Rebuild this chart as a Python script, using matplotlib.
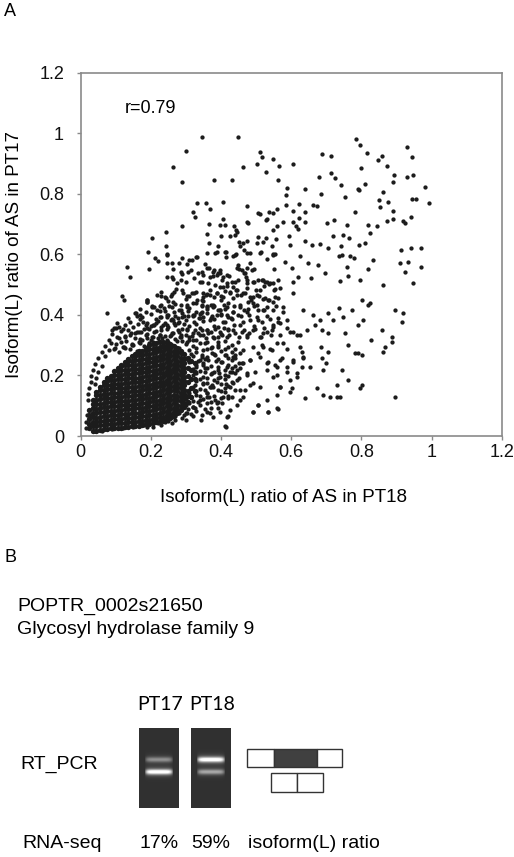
import numpy as np
import matplotlib
matplotlib.use("Agg")
import matplotlib.pyplot as plt
from matplotlib.patches import Rectangle

plt.rcParams['font.family'] = ['Liberation Sans', 'DejaVu Sans']

# ---------------- panel A : points ----------------
# sparse upper part (y > 0.65)
top_pts = [
    (0.345, 0.989), (0.449, 0.989), (0.785, 0.980), (0.796, 0.961), (0.300, 0.943), (0.511, 0.939),
    (0.929, 0.954), (0.687, 0.931), (0.713, 0.926), (0.516, 0.923), (0.547, 0.915), (0.815, 0.936),
    (0.858, 0.926), (0.945, 0.921), (0.846, 0.912), (0.502, 0.899), (0.606, 0.899), (0.264, 0.887),
    (0.462, 0.890), (0.564, 0.893), (0.798, 0.884), (0.874, 0.893), (0.528, 0.871), (0.714, 0.868),
    (0.946, 0.862), (0.894, 0.862), (0.929, 0.855), (0.289, 0.840), (0.381, 0.846), (0.430, 0.845),
    (0.561, 0.846), (0.680, 0.855), (0.725, 0.851), (0.741, 0.829), (0.811, 0.831), (0.891, 0.840),
    (0.587, 0.818), (0.640, 0.816), (0.789, 0.816), (0.794, 0.811), (0.753, 0.789), (0.685, 0.798),
    (0.585, 0.796), (0.849, 0.780), (0.861, 0.805), (0.945, 0.782), (0.956, 0.782), (0.993, 0.769),
    (0.981, 0.824), (0.331, 0.769), (0.356, 0.769), (0.369, 0.750), (0.407, 0.772), (0.319, 0.741),
    (0.325, 0.725), (0.475, 0.761), (0.506, 0.735), (0.536, 0.741), (0.559, 0.750), (0.585, 0.763),
    (0.606, 0.744), (0.622, 0.766), (0.638, 0.741), (0.661, 0.763), (0.673, 0.761), (0.853, 0.758),
    (0.877, 0.774), (0.783, 0.741), (0.889, 0.744), (0.889, 0.717), (0.872, 0.711), (0.942, 0.722),
    (0.918, 0.711), (0.924, 0.705), (0.288, 0.695), (0.367, 0.700), (0.397, 0.697), (0.405, 0.717),
    (0.438, 0.694), (0.443, 0.681), (0.475, 0.706), (0.527, 0.714), (0.549, 0.681), (0.559, 0.692),
    (0.578, 0.706), (0.604, 0.708), (0.614, 0.692), (0.622, 0.719), (0.640, 0.708), (0.619, 0.683),
    (0.701, 0.703), (0.723, 0.714), (0.758, 0.697), (0.820, 0.696), (0.844, 0.692), (0.825, 0.670),
    (0.411, 0.697), (0.445, 0.675), (0.477, 0.705), (0.511, 0.734), (0.532, 0.716), (0.547, 0.736),
]

# band 0.5 - 0.7
upper_pts = [
    (0.242, 0.675), (0.204, 0.655), (0.242, 0.626), (0.359, 0.667), (0.426, 0.659), (0.440, 0.664),
    (0.390, 0.629), (0.454, 0.629), (0.475, 0.645), (0.506, 0.656), (0.521, 0.642), (0.544, 0.626),
    (0.557, 0.650), (0.595, 0.661), (0.597, 0.631), (0.640, 0.645), (0.659, 0.631), (0.682, 0.634),
    (0.705, 0.620), (0.720, 0.659), (0.749, 0.664), (0.766, 0.653), (0.741, 0.626), (0.793, 0.631),
    (0.811, 0.639), (0.746, 0.598), (0.735, 0.593), (0.769, 0.593), (0.779, 0.587), (0.914, 0.615),
    (0.942, 0.620), (0.970, 0.620), (0.910, 0.570), (0.933, 0.576), (0.970, 0.559), (0.923, 0.542),
    (0.948, 0.507), (0.131, 0.559), (0.140, 0.526), (0.193, 0.609), (0.212, 0.587), (0.221, 0.578),
    (0.245, 0.598), (0.288, 0.587), (0.303, 0.567), (0.316, 0.581), (0.331, 0.592), (0.307, 0.543),
    (0.288, 0.535), (0.353, 0.567), (0.367, 0.554), (0.388, 0.607), (0.413, 0.607), (0.435, 0.593),
    (0.475, 0.604), (0.483, 0.570), (0.495, 0.551), (0.530, 0.584), (0.549, 0.598), (0.551, 0.551),
    (0.582, 0.576), (0.601, 0.554), (0.625, 0.593), (0.649, 0.570), (0.677, 0.565), (0.696, 0.537),
    (0.656, 0.523), (0.620, 0.526), (0.604, 0.510), (0.758, 0.557), (0.763, 0.529), (0.739, 0.513),
    (0.796, 0.515), (0.820, 0.551), (0.834, 0.581), (0.863, 0.499), (0.369, 0.526), (0.397, 0.537),
    (0.416, 0.532), (0.440, 0.510), (0.471, 0.526), (0.521, 0.515), (0.538, 0.501), (0.568, 0.488),
    (0.264, 0.518), (0.274, 0.504), (0.245, 0.526), (0.340, 0.510),
    (0.365, 0.637), (0.399, 0.661), (0.464, 0.639), (0.452, 0.642), (0.502, 0.639), (0.528, 0.653),
    (0.245, 0.602), (0.245, 0.573), (0.195, 0.551), (0.261, 0.573), (0.280, 0.571), (0.309, 0.582),
    (0.328, 0.591), (0.361, 0.606), (0.442, 0.602), (0.466, 0.615), (0.513, 0.609), (0.553, 0.602),
    (0.413, 0.590), (0.447, 0.565), (0.475, 0.554), (0.466, 0.540), (0.450, 0.551), (0.264, 0.551),
    (0.285, 0.543), (0.314, 0.549), (0.333, 0.538), (0.347, 0.543), (0.380, 0.549), (0.390, 0.540),
    (0.378, 0.527), (0.404, 0.516), (0.259, 0.524), (0.285, 0.516), (0.299, 0.510), (0.323, 0.521),
]

# band 0.3 - 0.5
mid_pts = [
    (0.076, 0.405), (0.119, 0.462), (0.155, 0.405), (0.188, 0.449), (0.217, 0.466), (0.240, 0.460),
    (0.264, 0.444), (0.293, 0.471), (0.316, 0.471), (0.303, 0.427), (0.331, 0.449), (0.350, 0.460),
    (0.369, 0.482), (0.388, 0.471), (0.407, 0.493), (0.426, 0.471), (0.445, 0.482), (0.468, 0.471),
    (0.492, 0.460), (0.511, 0.482), (0.525, 0.455), (0.478, 0.444), (0.502, 0.433), (0.521, 0.416),
    (0.473, 0.411), (0.454, 0.427), (0.435, 0.411), (0.416, 0.400), (0.397, 0.416), (0.378, 0.427),
    (0.359, 0.405), (0.340, 0.389), (0.321, 0.400), (0.288, 0.394), (0.264, 0.383), (0.245, 0.367),
    (0.226, 0.394), (0.207, 0.367), (0.179, 0.378), (0.155, 0.339), (0.126, 0.328), (0.103, 0.372),
    (0.088, 0.350), (0.549, 0.444), (0.578, 0.427), (0.606, 0.471), (0.635, 0.416), (0.663, 0.400),
    (0.682, 0.383), (0.705, 0.405), (0.720, 0.383), (0.735, 0.422), (0.749, 0.394), (0.773, 0.416),
    (0.801, 0.449), (0.818, 0.433), (0.825, 0.438), (0.791, 0.367), (0.806, 0.383), (0.897, 0.416),
    (0.918, 0.407), (0.915, 0.378), (0.858, 0.350), (0.827, 0.317), (0.801, 0.268), (0.782, 0.275),
    (0.789, 0.275), (0.763, 0.301), (0.868, 0.295), (0.887, 0.328), (0.887, 0.312), (0.863, 0.276),
    (0.753, 0.339), (0.705, 0.339), (0.687, 0.350), (0.668, 0.367), (0.644, 0.350), (0.625, 0.334),
    (0.606, 0.345), (0.587, 0.356), (0.568, 0.372), (0.549, 0.361), (0.530, 0.345), (0.511, 0.328),
    (0.492, 0.350), (0.473, 0.334), (0.454, 0.367), (0.435, 0.350), (0.416, 0.328), (0.397, 0.345),
    (0.378, 0.328), (0.359, 0.350), (0.340, 0.334), (0.321, 0.317), (0.303, 0.350), (0.283, 0.328),
    (0.264, 0.339), (0.245, 0.317), (0.226, 0.334), (0.207, 0.312), (0.188, 0.323), (0.169, 0.306),
    (0.145, 0.301), (0.122, 0.295), (0.098, 0.290),
    (0.423, 0.527), (0.447, 0.516), (0.475, 0.516), (0.494, 0.510), (0.518, 0.516), (0.532, 0.510),
    (0.547, 0.505), (0.561, 0.516), (0.418, 0.494), (0.442, 0.483), (0.475, 0.488), (0.499, 0.483),
    (0.523, 0.494), (0.551, 0.483), (0.399, 0.461), (0.433, 0.455), (0.456, 0.466), (0.485, 0.450),
    (0.509, 0.461), (0.537, 0.450), (0.561, 0.455), (0.380, 0.428), (0.409, 0.433), (0.437, 0.428),
    (0.466, 0.417), (0.494, 0.428), (0.523, 0.417), (0.556, 0.428), (0.375, 0.395), (0.399, 0.400),
    (0.428, 0.389), (0.456, 0.395), (0.480, 0.400), (0.504, 0.384), (0.532, 0.395), (0.561, 0.389),
    (0.380, 0.362), (0.409, 0.356), (0.437, 0.367), (0.466, 0.350), (0.494, 0.362), (0.523, 0.356),
    (0.547, 0.367), (0.390, 0.328), (0.423, 0.334), (0.452, 0.328), (0.480, 0.339), (0.513, 0.328),
    (0.542, 0.334), (0.271, 0.485), (0.266, 0.474), (0.257, 0.461), (0.242, 0.455), (0.228, 0.463),
    (0.190, 0.450), (0.157, 0.406), (0.169, 0.400), (0.204, 0.430), (0.217, 0.417), (0.238, 0.422),
    (0.252, 0.428), (0.095, 0.356), (0.109, 0.361), (0.143, 0.339), (0.171, 0.345), (0.190, 0.356),
    (0.209, 0.367), (0.228, 0.361), (0.257, 0.384), (0.276, 0.373), (0.295, 0.395), (0.323, 0.400),
    (0.342, 0.406), (0.176, 0.317), (0.204, 0.328), (0.233, 0.323), (0.257, 0.334), (0.285, 0.328),
    (0.309, 0.317), (0.333, 0.339), (0.356, 0.323), (0.247, 0.400), (0.285, 0.417), (0.304, 0.433),
    (0.328, 0.439), (0.347, 0.450), (0.361, 0.428), (0.356, 0.466), (0.323, 0.472), (0.304, 0.461),
]

# lower right, below 0.3
low_pts = [
    (0.684, 0.295), (0.705, 0.279), (0.687, 0.257), (0.699, 0.240), (0.692, 0.218), (0.744, 0.218),
    (0.763, 0.185), (0.796, 0.157), (0.803, 0.168), (0.730, 0.168), (0.730, 0.130), (0.711, 0.130),
    (0.739, 0.130), (0.690, 0.135), (0.673, 0.157), (0.638, 0.124), (0.897, 0.130), (0.630, 0.279),
    (0.635, 0.257), (0.654, 0.229), (0.630, 0.229), (0.606, 0.246), (0.616, 0.207), (0.587, 0.229),
    (0.597, 0.185), (0.568, 0.163), (0.601, 0.157), (0.559, 0.135), (0.559, 0.091), (0.535, 0.080),
    (0.506, 0.102), (0.492, 0.080), (0.549, 0.196), (0.559, 0.229), (0.530, 0.240), (0.506, 0.273),
    (0.521, 0.295), (0.544, 0.284), (0.568, 0.251), (0.578, 0.306), (0.483, 0.251), (0.473, 0.207),
    (0.492, 0.174), (0.468, 0.152), (0.445, 0.185), (0.430, 0.130), (0.454, 0.119), (0.426, 0.086),
    (0.421, 0.066), (0.414, 0.031), (0.378, 0.064), (0.343, 0.053), (0.388, 0.108), (0.407, 0.130),
    (0.426, 0.163), (0.445, 0.218), (0.464, 0.240), (0.435, 0.262), (0.416, 0.229), (0.397, 0.196),
    (0.378, 0.163), (0.359, 0.141), (0.340, 0.119), (0.321, 0.097), (0.302, 0.075), (0.207, 0.031),
    (0.169, 0.042),
]

# moderately dense zone x 0.34 - 0.64
dense_mid_pts = [
    (0.383, 0.603), (0.411, 0.609), (0.440, 0.598), (0.483, 0.603), (0.511, 0.605), (0.549, 0.601),
    (0.359, 0.554), (0.378, 0.543), (0.397, 0.548), (0.445, 0.554), (0.459, 0.548), (0.468, 0.537),
    (0.487, 0.548), (0.350, 0.532), (0.388, 0.532), (0.407, 0.526),
    (0.345, 0.509), (0.364, 0.504), (0.383, 0.498), (0.397, 0.493), (0.416, 0.504), (0.430, 0.509),
    (0.435, 0.493), (0.473, 0.504), (0.492, 0.509), (0.506, 0.515), (0.525, 0.509), (0.540, 0.504),
    (0.554, 0.487),
    (0.350, 0.471), (0.369, 0.465), (0.388, 0.471), (0.407, 0.460), (0.426, 0.476), (0.445, 0.465),
    (0.464, 0.471), (0.483, 0.460), (0.502, 0.465), (0.521, 0.454), (0.535, 0.449), (0.554, 0.460),
    (0.345, 0.432), (0.359, 0.421), (0.378, 0.432), (0.397, 0.416), (0.416, 0.427), (0.435, 0.410),
    (0.454, 0.432), (0.478, 0.421), (0.492, 0.438), (0.506, 0.416), (0.530, 0.427), (0.549, 0.416),
    (0.578, 0.410),
    (0.350, 0.394), (0.369, 0.383), (0.388, 0.399), (0.407, 0.377), (0.430, 0.388), (0.449, 0.399),
    (0.464, 0.377), (0.483, 0.383), (0.502, 0.394), (0.516, 0.377), (0.540, 0.388), (0.563, 0.377),
    (0.587, 0.383),
    (0.345, 0.350), (0.364, 0.339), (0.383, 0.355), (0.402, 0.333), (0.421, 0.350), (0.440, 0.339),
    (0.459, 0.344), (0.473, 0.328), (0.497, 0.355), (0.521, 0.339), (0.544, 0.350), (0.568, 0.333),
    (0.597, 0.344), (0.616, 0.333),
    (0.354, 0.306), (0.373, 0.295), (0.392, 0.311), (0.411, 0.289), (0.430, 0.300), (0.449, 0.311),
    (0.464, 0.284), (0.492, 0.295), (0.516, 0.300), (0.540, 0.289), (0.559, 0.306), (0.587, 0.289),
    (0.625, 0.295),
    (0.345, 0.262), (0.364, 0.251), (0.383, 0.267), (0.402, 0.245), (0.421, 0.256), (0.440, 0.267),
    (0.459, 0.240), (0.483, 0.251), (0.511, 0.262), (0.535, 0.245), (0.554, 0.234), (0.573, 0.256),
    (0.606, 0.251), (0.635, 0.262),
    (0.354, 0.223), (0.373, 0.207), (0.392, 0.218), (0.411, 0.201), (0.430, 0.212), (0.454, 0.223),
    (0.473, 0.201), (0.497, 0.212), (0.530, 0.218), (0.559, 0.201), (0.587, 0.212), (0.616, 0.196),
    (0.350, 0.174), (0.369, 0.163), (0.388, 0.179), (0.411, 0.157), (0.435, 0.174), (0.454, 0.152),
    (0.483, 0.168), (0.511, 0.163), (0.568, 0.163), (0.597, 0.146),
    (0.359, 0.130), (0.383, 0.119), (0.402, 0.108), (0.421, 0.124), (0.445, 0.102), (0.464, 0.130),
    (0.506, 0.102), (0.530, 0.119),
    (0.369, 0.075), (0.397, 0.080), (0.416, 0.064), (0.492, 0.080), (0.535, 0.080), (0.563, 0.088),
    (0.411, 0.033),
]

# halo around the solid core
shell_pts = [
    (0.23, 0.475), (0.26, 0.468), (0.29, 0.481), (0.31, 0.462), (0.33, 0.477), (0.36, 0.470), (0.38, 0.458), (0.41, 0.479),
    (0.19, 0.442), (0.25, 0.447), (0.27, 0.436), (0.30, 0.451), (0.32, 0.439), (0.35, 0.446), (0.37, 0.433), (0.40, 0.449),
    (0.42, 0.438), (0.17, 0.418), (0.21, 0.425), (0.24, 0.414), (0.26, 0.427), (0.28, 0.416), (0.31, 0.423), (0.33, 0.411),
    (0.36, 0.426), (0.39, 0.415), (0.41, 0.421), (0.16, 0.398), (0.20, 0.404), (0.23, 0.392), (0.25, 0.401), (0.27, 0.395),
    (0.29, 0.407), (0.32, 0.396), (0.34, 0.402), (0.37, 0.391), (0.40, 0.404), (0.42, 0.394), (0.14, 0.378), (0.17, 0.385),
    (0.19, 0.372), (0.22, 0.381), (0.24, 0.374), (0.26, 0.386), (0.28, 0.377), (0.30, 0.383), (0.33, 0.371), (0.35, 0.379),
    (0.38, 0.386), (0.41, 0.375), (0.10, 0.358), (0.12, 0.352), (0.15, 0.361), (0.18, 0.355), (0.20, 0.364), (0.23, 0.351),
    (0.25, 0.359), (0.27, 0.366), (0.29, 0.354), (0.31, 0.362), (0.34, 0.356), (0.36, 0.349), (0.39, 0.361), (0.42, 0.353),
    (0.09, 0.338), (0.14, 0.333), (0.16, 0.342), (0.19, 0.336), (0.21, 0.345), (0.24, 0.331), (0.26, 0.339), (0.28, 0.344),
    (0.30, 0.334), (0.32, 0.341), (0.35, 0.332), (0.37, 0.343), (0.40, 0.336), (0.08, 0.318), (0.11, 0.324), (0.13, 0.313),
    (0.17, 0.322), (0.20, 0.316), (0.22, 0.325), (0.25, 0.312), (0.27, 0.321), (0.29, 0.315), (0.31, 0.326), (0.33, 0.318),
    (0.36, 0.311), (0.38, 0.323), (0.41, 0.314), (0.07, 0.298), (0.10, 0.304), (0.12, 0.293), (0.15, 0.302), (0.18, 0.296),
    (0.21, 0.305), (0.23, 0.294), (0.26, 0.299), (0.28, 0.291), (0.30, 0.303), (0.32, 0.297), (0.34, 0.306), (0.37, 0.292),
    (0.39, 0.301), (0.42, 0.295), (0.06, 0.278), (0.08, 0.284), (0.11, 0.276), (0.14, 0.287), (0.16, 0.281), (0.19, 0.289),
    (0.22, 0.286), (0.24, 0.292), (0.27, 0.279), (0.29, 0.274), (0.31, 0.283), (0.33, 0.277), (0.35, 0.285), (0.38, 0.272),
    (0.40, 0.281), (0.43, 0.276), (0.05, 0.258), (0.07, 0.264), (0.30, 0.256), (0.32, 0.263), (0.34, 0.252), (0.36, 0.261),
    (0.39, 0.255), (0.41, 0.266), (0.44, 0.258), (0.04, 0.238), (0.06, 0.232), (0.31, 0.243), (0.33, 0.235), (0.35, 0.241),
    (0.37, 0.232), (0.40, 0.245), (0.42, 0.236), (0.45, 0.242), (0.035, 0.218), (0.05, 0.212), (0.32, 0.222), (0.34, 0.214),
    (0.36, 0.225), (0.38, 0.211), (0.41, 0.219), (0.43, 0.226), (0.03, 0.198), (0.045, 0.192), (0.32, 0.203), (0.35, 0.195),
    (0.37, 0.206), (0.39, 0.191), (0.42, 0.199), (0.44, 0.207), (0.03, 0.178), (0.04, 0.172), (0.33, 0.182), (0.36, 0.174),
    (0.38, 0.186), (0.40, 0.171), (0.43, 0.179), (0.025, 0.158), (0.32, 0.163), (0.34, 0.155), (0.37, 0.161), (0.39, 0.152),
    (0.42, 0.166), (0.02, 0.138), (0.31, 0.143), (0.33, 0.135), (0.36, 0.141), (0.38, 0.132), (0.41, 0.145), (0.02, 0.118),
    (0.30, 0.122), (0.32, 0.114), (0.35, 0.121), (0.37, 0.112), (0.40, 0.125), (0.30, 0.102), (0.32, 0.095), (0.34, 0.104),
    (0.37, 0.092), (0.28, 0.082), (0.30, 0.075), (0.33, 0.084), (0.36, 0.078), (0.26, 0.062), (0.29, 0.058), (0.32, 0.065),
    (0.22, 0.042), (0.25, 0.048), (0.04, 0.015), (0.06, 0.018), (0.09, 0.022), (0.12, 0.026), (0.15, 0.030), (0.18, 0.036),
    (0.21, 0.045), (0.122, 0.449), (0.190, 0.444), (0.228, 0.433), (0.204, 0.427),
    (0.095, 0.286), (0.125, 0.291), (0.086, 0.307), (0.114, 0.311), (0.146, 0.305), (0.166, 0.312), (0.196, 0.306),
    (0.224, 0.313), (0.246, 0.308), (0.274, 0.314), (0.304, 0.309), (0.104, 0.327), (0.126, 0.331), (0.154, 0.325),
    (0.186, 0.332), (0.206, 0.327), (0.226, 0.334), (0.254, 0.329), (0.286, 0.335), (0.316, 0.330), (0.114, 0.347),
    (0.136, 0.351), (0.166, 0.345), (0.194, 0.352), (0.214, 0.347), (0.246, 0.354), (0.276, 0.349), (0.304, 0.355),
    (0.326, 0.350), (0.126, 0.367), (0.164, 0.371), (0.186, 0.366), (0.216, 0.373), (0.236, 0.368), (0.266, 0.374),
    (0.294, 0.369), (0.324, 0.375), (0.136, 0.389), (0.176, 0.393), (0.214, 0.388), (0.246, 0.394), (0.276, 0.389),
    (0.306, 0.395), (0.336, 0.391), (0.186, 0.409), (0.226, 0.413), (0.266, 0.408), (0.306, 0.414), (0.346, 0.409),
    (0.226, 0.431), (0.286, 0.434), (0.346, 0.428),
    (0.33, 0.291), (0.36, 0.287), (0.39, 0.293), (0.44, 0.289), (0.315, 0.271), (0.345, 0.268), (0.375, 0.274),
    (0.415, 0.269), (0.455, 0.273), (0.305, 0.251), (0.335, 0.248), (0.355, 0.253), (0.385, 0.247), (0.43, 0.252),
    (0.33, 0.228), (0.35, 0.233), (0.39, 0.229), (0.44, 0.232), (0.33, 0.208), (0.355, 0.213), (0.395, 0.209),
    (0.425, 0.212), (0.34, 0.188), (0.36, 0.193), (0.41, 0.189), (0.45, 0.192), (0.325, 0.168), (0.35, 0.173),
    (0.375, 0.169), (0.415, 0.172), (0.33, 0.148), (0.355, 0.153), (0.40, 0.149), (0.44, 0.152), (0.315, 0.128),
    (0.34, 0.133), (0.365, 0.129), (0.42, 0.132), (0.31, 0.108), (0.335, 0.113), (0.36, 0.109), (0.39, 0.112),
    (0.28, 0.075), (0.305, 0.088), (0.325, 0.093), (0.355, 0.089), (0.39, 0.092), (0.27, 0.066), (0.295, 0.068),
    (0.315, 0.073), (0.345, 0.069), (0.24, 0.046), (0.27, 0.052), (0.30, 0.053), (0.19, 0.030), (0.23, 0.036),
    (0.26, 0.044), (0.015, 0.045), (0.017, 0.070), (0.014, 0.028),
]

# solid core: columns of x with the y values stacked in each
core_x = [0.025, 0.035, 0.045, 0.055, 0.065, 0.075, 0.085, 0.095, 0.105, 0.115, 0.125, 0.135, 0.145, 0.155,
          0.165, 0.175, 0.185, 0.195, 0.205, 0.215, 0.225, 0.235, 0.245, 0.255, 0.265, 0.275, 0.285, 0.295,
          0.305, 0.315, 0.325]
core_y = [
    [.026, .041, .056, .071, .086],
    [.018, .033, .047, .062, .076, .091, .105, .118],
    [.018, .032, .047, .061, .076, .090, .105, .119, .134, .146],
    [.020, .035, .049, .064, .078, .093, .107, .122, .136, .151, .163],
    [.022, .037, .051, .066, .080, .095, .109, .124, .138, .153, .167, .178],
    [.024, .038, .053, .067, .082, .096, .111, .125, .140, .154, .169, .183, .190],
    [.025, .040, .054, .069, .083, .098, .112, .127, .141, .156, .170, .185, .199],
    [.026, .041, .055, .070, .084, .099, .113, .128, .142, .157, .171, .186, .200, .214],
    [.027, .042, .056, .071, .085, .100, .114, .129, .143, .158, .172, .187, .201, .216, .225],
    [.028, .043, .057, .072, .086, .101, .115, .130, .144, .159, .173, .188, .202, .217, .231, .236],
    [.030, .044, .059, .073, .088, .102, .117, .131, .146, .160, .175, .189, .204, .218, .233, .245],
    [.030, .045, .059, .074, .088, .103, .117, .132, .146, .161, .175, .190, .204, .219, .233, .248, .255],
    [.032, .046, .061, .075, .090, .104, .119, .133, .148, .162, .177, .191, .206, .220, .235, .249, .264],
    [.033, .047, .062, .076, .091, .105, .120, .134, .149, .163, .178, .192, .207, .221, .236, .250, .265, .270],
    [.034, .048, .063, .077, .092, .106, .121, .135, .150, .164, .179, .193, .208, .222, .237, .251, .266, .280],
    [.036, .050, .065, .079, .094, .108, .123, .137, .152, .166, .181, .195, .210, .224, .239, .253, .268, .282],
    [.038, .052, .067, .081, .096, .110, .125, .139, .154, .168, .183, .197, .212, .226, .241, .255, .270, .284, .290],
    [.040, .054, .069, .083, .098, .112, .127, .141, .156, .170, .185, .199, .214, .228, .243, .257, .272, .286, .300],
    [.042, .056, .071, .085, .100, .114, .129, .143, .158, .172, .187, .201, .216, .230, .245, .259, .274, .288, .303],
    [.045, .059, .074, .088, .103, .117, .132, .146, .161, .175, .190, .204, .219, .233, .248, .262, .277, .291, .306],
    [.048, .062, .077, .091, .106, .120, .135, .149, .164, .178, .193, .207, .222, .236, .251, .265, .280, .294, .309],
    [.050, .064, .079, .093, .108, .122, .137, .151, .166, .180, .195, .209, .224, .238, .253, .267, .282, .296, .310],
    [.055, .069, .084, .098, .113, .127, .142, .156, .171, .185, .200, .214, .229, .243, .258, .272, .287, .301, .310],
    [.060, .074, .089, .103, .118, .132, .147, .161, .176, .190, .205, .219, .234, .248, .263, .277, .292, .305],
    [.065, .079, .094, .108, .123, .137, .152, .166, .181, .195, .210, .224, .239, .253, .268, .282, .297],
    [.075, .089, .104, .118, .133, .147, .162, .176, .191, .205, .220, .234, .249, .263, .278, .290],
    [.085, .099, .114, .128, .143, .157, .172, .186, .201, .215, .230, .244, .259, .273, .280],
    [.095, .109, .124, .138, .153, .167, .182, .196, .211, .225, .240, .254, .270],
    [.112, .131, .150, .178, .197, .224, .258],
    [.128, .160, .189, .218, .247],
    [.150, .187, .211, .240],
]

ticks = [0, 0.2, 0.4, 0.6, 0.8, 1.0, 1.2]
tick_labels = ['0', '0.2', '0.4', '0.6', '0.8', '1', '1.2']

# ---------------- panel B ----------------
lanes = ['PT17', 'PT18']
rnaseq = ['17%', '59%']
# relative brightness of (upper, lower) band in each lane
band_strength = [[0.40, 0.95], [0.95, 0.50]]

# ----------------------------------------------------------------
W, H = 514, 857
fig = plt.figure(figsize=(W / 100, H / 100), dpi=100)

# full-figure canvas in pixel units for the annotations / panel B
bx = fig.add_axes([0, 0, 1, 1])
bx.set_xlim(0, W)
bx.set_ylim(H, 0)
bx.axis('off')
bx.patch.set_alpha(0)

ax = fig.add_axes([80.7 / W, 1 - 436 / H, (501.7 - 80.7) / W, (436 - 72.7) / H])
px, py = [], []
for grp in (top_pts, upper_pts, mid_pts, low_pts, dense_mid_pts, shell_pts):
    for a, b in grp:
        px.append(a)
        py.append(b)
cx_all, cy_all = [], []
for cx, col in zip(core_x, core_y):
    for b in col:
        cx_all.append(cx)
        cy_all.append(b)
dot = '#1c1c1c'
ax.scatter(px, py, s=9.5, c=dot, linewidths=0)
# core dots overlap into one dark mass
ax.scatter(cx_all, cy_all, s=15, c=dot, linewidths=0)

ax.set_xlim(0, 1.2)
ax.set_ylim(0, 1.2)
ax.set_xticks(ticks)
ax.set_xticklabels(tick_labels)
ax.set_yticks(ticks)
ax.set_yticklabels(tick_labels)
for s in ax.spines.values():
    s.set_color('#8a8a8a')
    s.set_linewidth(1.2)
ax.tick_params(direction='out', length=3, width=1, color='#8a8a8a', labelsize=13, labelcolor='#111')
ax.tick_params(axis='x', pad=2.5)
ax.tick_params(axis='y', pad=9)
ax.text(0.126, 1.083, 'r=0.79', fontsize=13, va='center')

bx.text(4, 11, 'A', fontsize=13, va='center')
bx.text(283, 497, 'Isoform(L) ratio of AS in PT18', fontsize=13.5, ha='center', va='center')
bx.text(15, 254, 'Isoform(L) ratio of AS in PT17', fontsize=13.5, ha='center', va='center', rotation=90)

bx.text(4, 557, 'B', fontsize=13, va='center')
bx.text(17, 606, 'POPTR_0002s21650', fontsize=14, va='center')
bx.text(17, 630, 'Glycosyl hydrolase family 9', fontsize=14, va='center')
bx.text(20.7, 764, 'RT_PCR', fontsize=14, va='center')
bx.text(22.7, 843, 'RNA-seq', fontsize=14, va='center')
bx.text(248, 843, 'isoform(L) ratio', fontsize=14, va='center')

lane_left = [139.3, 191.0]
lane_w, top, bot = 39.4, 728.3, 808.3
band_y = [759.8, 772.2]
nr, nc = 80, 40
yy = np.linspace(top, bot, nr)[:, None]
xx = np.linspace(0, 1, nc)[None, :]
xprof = np.clip(1 - ((xx - 0.5) / 0.37) ** 6, 0, 1)
for i, name in enumerate(lanes):
    x0 = lane_left[i]
    img = np.full((nr, nc), 0.19)
    for yc, st in zip(band_y, band_strength[i]):
        core = np.exp(-((yy - yc) / 2.6) ** 2)
        glow = np.exp(-((yy - yc) / 5.0) ** 2)
        img = img + xprof * (st * 0.75 * core + st * 0.2 * glow)
    img = np.clip(img, 0, 1)
    bx.imshow(img, cmap='gray', vmin=0, vmax=1, extent=(x0, x0 + lane_w, bot, top),
              aspect='auto', interpolation='bilinear', zorder=2)
    bx.text(x0 + lane_w / 2 + 1, 705, name, fontsize=14, ha='center', va='center', family=['Lato', 'DejaVu Sans'])
    bx.text(x0, 843, rnaseq[i], fontsize=14, va='center')

# exon diagram
ec = '#333333'
for x0, w, fc in [(247.3, 26.7, 'white'), (274.0, 42.7, '#404040'), (316.7, 25.6, 'white')]:
    bx.add_patch(Rectangle((x0, 748.7), w, 18.6, fc=fc, ec=ec, lw=1, zorder=3))
for x0, w in [(271.0, 26.0), (297.0, 26.3)]:
    bx.add_patch(Rectangle((x0, 772.7), w, 19.6, fc='white', ec=ec, lw=1, zorder=3))

fig.savefig('out.png', dpi=100)
